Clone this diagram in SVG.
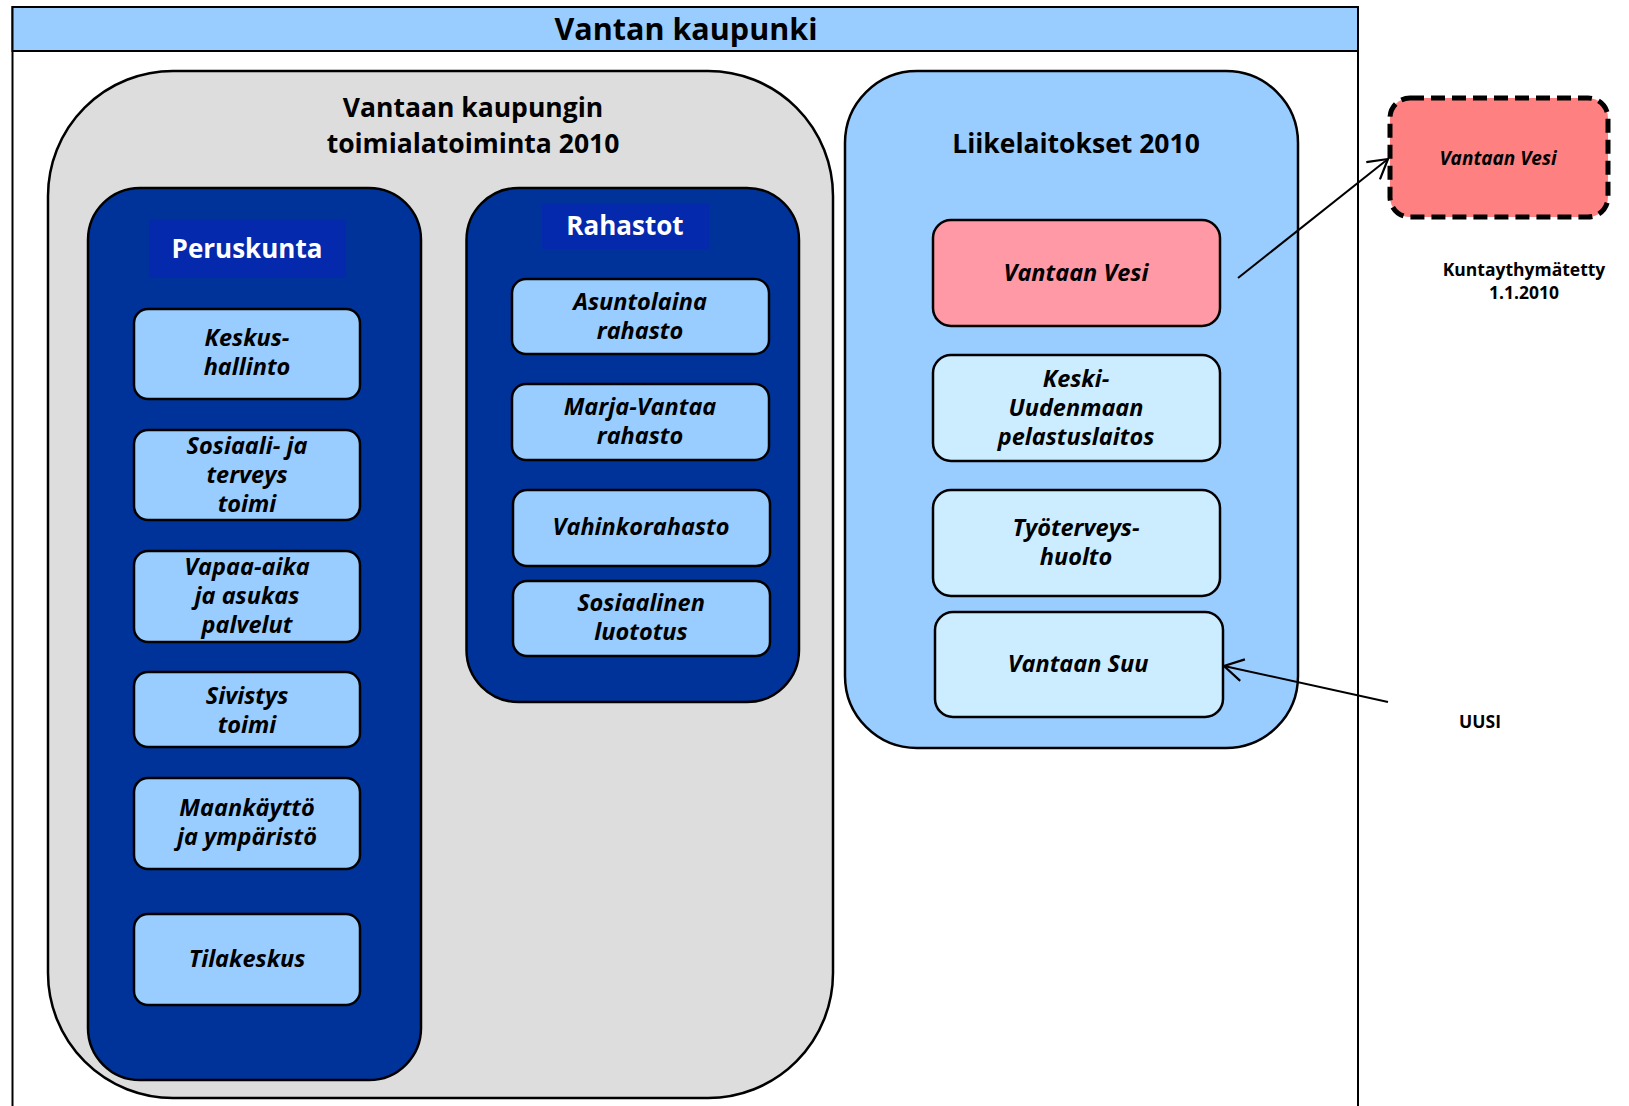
<svg xmlns="http://www.w3.org/2000/svg" width="1629" height="1106" viewBox="0 0 1629 1106">
<defs>
<style>
text{font-family:"Open Sans",Lato,"Liberation Sans",sans-serif;font-weight:bold;text-anchor:middle;fill:#000}
.h{font-size:30.5px}
.t{font-size:26.5px}
.w{font-size:26px;fill:#fff}
.n{font-size:23.5px;font-style:italic}
.s{font-size:19px;font-style:italic}
.k{font-size:17.5px}
.box{stroke:#000;stroke-width:2.5}
.nd{fill:#99CCFF;stroke:#000;stroke-width:2.5}
.ln{fill:#CCECFF;stroke:#000;stroke-width:2.5}
.cn{fill:none;stroke:#000;stroke-width:2}
</style>
<marker id="ah" viewBox="0 0 24 24" refX="22" refY="12" markerWidth="24" markerHeight="24" markerUnits="userSpaceOnUse" orient="auto">
<path d="M3,1 L22,12 L3,23" fill="none" stroke="#000" stroke-width="2.2"/>
</marker>
</defs>
<rect width="1629" height="1106" fill="#fff"/>
<g id="frame">
<rect x="12.5" y="7" width="1345.5" height="1110" fill="#fff" stroke="#000" stroke-width="2"/>
<rect x="12.5" y="7" width="1345.5" height="44" fill="#99CCFF" stroke="#000" stroke-width="2"/>
<text class="h" x="686" y="40">Vantan kaupunki</text>
</g>
<g id="toimiala">
<rect class="box" x="48" y="71" width="785" height="1027" rx="125" fill="#DDDDDD"/>
<text class="t" x="473" y="117">Vantaan kaupungin</text>
<text class="t" x="473" y="153">toimialatoiminta 2010</text>
</g>
<g id="peruskunta">
<rect class="box" x="88" y="188" width="333" height="892" rx="52" fill="#003399"/>
<rect x="149" y="220" width="197" height="58" fill="#0529AD"/>
<text class="w" x="247" y="258">Peruskunta</text>
</g>
<g id="keskushallinto">
<rect class="nd" x="134" y="309" width="226" height="90" rx="14"/>
<text class="n" x="247" y="346">Keskus-</text>
<text class="n" x="247" y="375">hallinto</text>
</g>
<g id="sosiaali">
<rect class="nd" x="134" y="430" width="226" height="90" rx="14"/>
<text class="n" x="247" y="454">Sosiaali- ja</text>
<text class="n" x="247" y="483">terveys</text>
<text class="n" x="247" y="512">toimi</text>
</g>
<g id="vapaa-aika">
<rect class="nd" x="134" y="551" width="226" height="91" rx="14"/>
<text class="n" x="247" y="575">Vapaa-aika</text>
<text class="n" x="247" y="604">ja asukas</text>
<text class="n" x="247" y="633">palvelut</text>
</g>
<g id="sivistys">
<rect class="nd" x="134" y="672" width="226" height="75" rx="14"/>
<text class="n" x="247" y="704">Sivistys</text>
<text class="n" x="247" y="733">toimi</text>
</g>
<g id="maankaytto">
<rect class="nd" x="134" y="778" width="226" height="91" rx="14"/>
<text class="n" x="247" y="816">Maankäyttö</text>
<text class="n" x="247" y="845">ja ympäristö</text>
</g>
<g id="tilakeskus">
<rect class="nd" x="134" y="914" width="226" height="91" rx="14"/>
<text class="n" x="247" y="967">Tilakeskus</text>
</g>
<g id="rahastot">
<rect class="box" x="466.5" y="188" width="332.5" height="514" rx="52" fill="#003399"/>
<rect x="542" y="204" width="167" height="45" fill="#0529AD"/>
<text class="w" x="625" y="235">Rahastot</text>
</g>
<g id="asuntolaina">
<rect class="nd" x="512" y="279" width="257" height="75" rx="14"/>
<text class="n" x="640" y="310">Asuntolaina</text>
<text class="n" x="640" y="339">rahasto</text>
</g>
<g id="marja-vantaa">
<rect class="nd" x="512" y="384" width="257" height="76" rx="14"/>
<text class="n" x="640" y="415">Marja-Vantaa</text>
<text class="n" x="640" y="444">rahasto</text>
</g>
<g id="vahinkorahasto">
<rect class="nd" x="513" y="490" width="257" height="76" rx="14"/>
<text class="n" x="641" y="535">Vahinkorahasto</text>
</g>
<g id="sosiaalinen">
<rect class="nd" x="513" y="581" width="257" height="75" rx="14"/>
<text class="n" x="641" y="611">Sosiaalinen</text>
<text class="n" x="641" y="640">luototus</text>
</g>
<g id="liikelaitokset">
<rect class="box" x="845" y="71" width="453" height="677" rx="72" fill="#99CCFF"/>
<text class="t" x="1076" y="153">Liikelaitokset 2010</text>
</g>
<g id="vantaan-vesi">
<rect class="box" x="933" y="220" width="287" height="106" rx="18" fill="#FF99A6"/>
<text class="n" x="1076" y="281">Vantaan Vesi</text>
</g>
<g id="pelastuslaitos">
<rect class="ln" x="933" y="355" width="287" height="106" rx="18"/>
<text class="n" x="1076" y="387">Keski-</text>
<text class="n" x="1076" y="416">Uudenmaan</text>
<text class="n" x="1076" y="445">pelastuslaitos</text>
</g>
<g id="tyoterveys">
<rect class="ln" x="933" y="490" width="287" height="106" rx="18"/>
<text class="n" x="1076" y="536">Työterveys-</text>
<text class="n" x="1076" y="565">huolto</text>
</g>
<g id="vantaan-suu">
<rect class="ln" x="935" y="612" width="288" height="105" rx="18"/>
<text class="n" x="1078" y="672">Vantaan Suu</text>
</g>
<g id="vantaan-vesi-uusi">
<rect x="1390" y="98" width="218" height="119" rx="20" fill="#FF8080" stroke="#000" stroke-width="5" stroke-dasharray="14 7"/>
<text class="s" x="1498" y="165">Vantaan Vesi</text>
</g>
<g id="labels">
<text class="k" x="1524" y="276">Kuntaythymätetty</text>
<text class="k" x="1524" y="299">1.1.2010</text>
<text class="k" x="1480" y="728">UUSI</text>
</g>
<g id="connectors">
<line class="cn" x1="1238" y1="278" x2="1388" y2="159" marker-end="url(#ah)"/>
<line class="cn" x1="1388" y1="702" x2="1224" y2="666" marker-end="url(#ah)"/>
</g>
</svg>
